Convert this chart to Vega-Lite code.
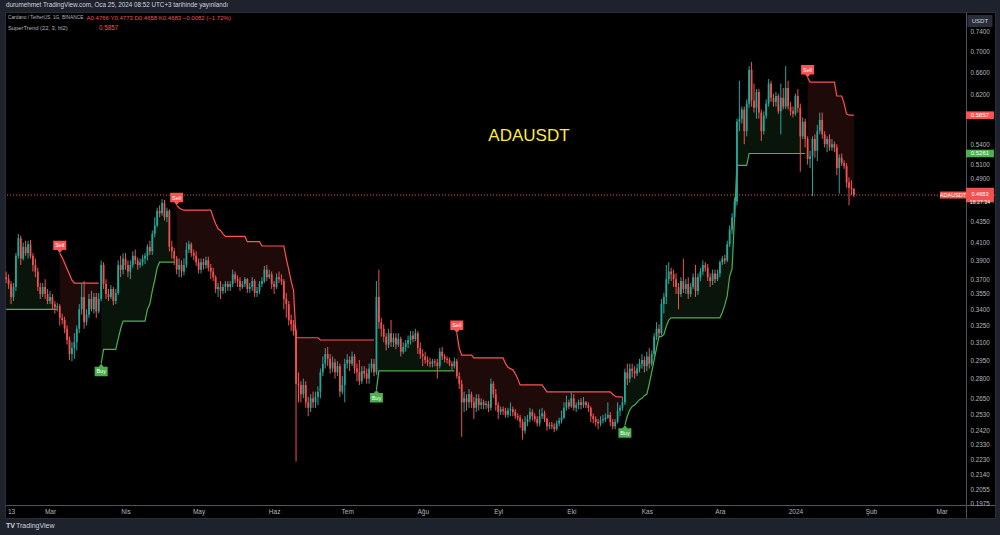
{
"$schema": "https://vega.github.io/schema/vega-lite/v6.json",
"width": 990, "height": 506,
"autosize": "none",
"padding": {"left": 5, "top": 12, "right": 5, "bottom": 17},
"background": "#1e222d",
"config": {"view": {"fill": "#000000", "stroke": "#2a2e39", "strokeWidth": 1}, "font": "Liberation Sans"},
"datasets": {
"bars": [
{"d":"2023-02-11","o":0.372,"h":0.378,"l":0.366,"c":0.370,"s":0.34,"g":1},
{"d":"2023-02-12","o":0.370,"h":0.375,"l":0.360,"c":0.365,"s":0.34,"g":1},
{"d":"2023-02-13","o":0.365,"h":0.368,"l":0.345,"c":0.352,"s":0.34,"g":1},
{"d":"2023-02-14","o":0.352,"h":0.366,"l":0.348,"c":0.362,"s":0.34,"g":1},
{"d":"2023-02-15","o":0.362,"h":0.398,"l":0.358,"c":0.395,"s":0.34,"g":1},
{"d":"2023-02-16","o":0.395,"h":0.420,"l":0.392,"c":0.415,"s":0.34,"g":1},
{"d":"2023-02-17","o":0.415,"h":0.418,"l":0.385,"c":0.392,"s":0.34,"g":1},
{"d":"2023-02-18","o":0.392,"h":0.410,"l":0.390,"c":0.405,"s":0.34,"g":1},
{"d":"2023-02-19","o":0.405,"h":0.412,"l":0.395,"c":0.398,"s":0.34,"g":1},
{"d":"2023-02-20","o":0.398,"h":0.412,"l":0.392,"c":0.408,"s":0.34,"g":1},
{"d":"2023-02-21","o":0.408,"h":0.413,"l":0.392,"c":0.395,"s":0.34,"g":1},
{"d":"2023-02-22","o":0.395,"h":0.398,"l":0.378,"c":0.385,"s":0.34,"g":1},
{"d":"2023-02-23","o":0.385,"h":0.392,"l":0.372,"c":0.378,"s":0.34,"g":1},
{"d":"2023-02-24","o":0.378,"h":0.382,"l":0.358,"c":0.362,"s":0.34,"g":1},
{"d":"2023-02-25","o":0.362,"h":0.366,"l":0.350,"c":0.355,"s":0.34,"g":1},
{"d":"2023-02-26","o":0.355,"h":0.366,"l":0.352,"c":0.362,"s":0.34,"g":1},
{"d":"2023-02-27","o":0.362,"h":0.370,"l":0.350,"c":0.355,"s":0.34,"g":1},
{"d":"2023-02-28","o":0.355,"h":0.360,"l":0.345,"c":0.348,"s":0.34,"g":1},
{"d":"2023-03-01","o":0.348,"h":0.358,"l":0.345,"c":0.352,"s":0.34,"g":1},
{"d":"2023-03-02","o":0.352,"h":0.355,"l":0.340,"c":0.345,"s":0.34,"g":1},
{"d":"2023-03-03","o":0.345,"h":0.348,"l":0.336,"c":0.342,"s":0.34,"g":1},
{"d":"2023-03-04","o":0.342,"h":0.346,"l":0.338,"c":0.343,"s":0.34,"g":1},
{"d":"2023-03-05","o":0.343,"h":0.345,"l":0.325,"c":0.332,"s":0.398,"g":2},
{"d":"2023-03-06","o":0.332,"h":0.336,"l":0.326,"c":0.330,"s":0.393,"g":2},
{"d":"2023-03-07","o":0.330,"h":0.333,"l":0.318,"c":0.322,"s":0.387,"g":2},
{"d":"2023-03-08","o":0.322,"h":0.325,"l":0.308,"c":0.312,"s":0.381,"g":2},
{"d":"2023-03-09","o":0.312,"h":0.315,"l":0.295,"c":0.300,"s":0.375,"g":2},
{"d":"2023-03-10","o":0.300,"h":0.310,"l":0.294,"c":0.305,"s":0.369,"g":2},
{"d":"2023-03-11","o":0.305,"h":0.318,"l":0.296,"c":0.310,"s":0.366,"g":2},
{"d":"2023-03-12","o":0.310,"h":0.325,"l":0.303,"c":0.322,"s":0.366,"g":2},
{"d":"2023-03-13","o":0.322,"h":0.345,"l":0.318,"c":0.340,"s":0.366,"g":2},
{"d":"2023-03-14","o":0.340,"h":0.366,"l":0.335,"c":0.352,"s":0.366,"g":2},
{"d":"2023-03-15","o":0.352,"h":0.368,"l":0.322,"c":0.328,"s":0.366,"g":2},
{"d":"2023-03-16","o":0.328,"h":0.340,"l":0.325,"c":0.335,"s":0.366,"g":2},
{"d":"2023-03-17","o":0.335,"h":0.355,"l":0.332,"c":0.350,"s":0.366,"g":2},
{"d":"2023-03-18","o":0.350,"h":0.358,"l":0.338,"c":0.340,"s":0.366,"g":2},
{"d":"2023-03-19","o":0.340,"h":0.356,"l":0.336,"c":0.352,"s":0.366,"g":2},
{"d":"2023-03-20","o":0.352,"h":0.356,"l":0.332,"c":0.338,"s":0.366,"g":2},
{"d":"2023-03-21","o":0.338,"h":0.356,"l":0.336,"c":0.350,"s":0.366,"g":2},
{"d":"2023-03-22","o":0.350,"h":0.390,"l":0.348,"c":0.385,"s":0.292,"g":3},
{"d":"2023-03-23","o":0.385,"h":0.388,"l":0.360,"c":0.365,"s":0.304,"g":3},
{"d":"2023-03-24","o":0.365,"h":0.370,"l":0.350,"c":0.355,"s":0.304,"g":3},
{"d":"2023-03-25","o":0.355,"h":0.360,"l":0.348,"c":0.352,"s":0.304,"g":3},
{"d":"2023-03-26","o":0.352,"h":0.364,"l":0.350,"c":0.360,"s":0.304,"g":3},
{"d":"2023-03-27","o":0.360,"h":0.362,"l":0.344,"c":0.348,"s":0.304,"g":3},
{"d":"2023-03-28","o":0.348,"h":0.360,"l":0.345,"c":0.356,"s":0.304,"g":3},
{"d":"2023-03-29","o":0.356,"h":0.390,"l":0.354,"c":0.385,"s":0.313,"g":3},
{"d":"2023-03-30","o":0.385,"h":0.395,"l":0.372,"c":0.380,"s":0.322,"g":3},
{"d":"2023-03-31","o":0.380,"h":0.398,"l":0.375,"c":0.392,"s":0.329,"g":3},
{"d":"2023-04-01","o":0.392,"h":0.398,"l":0.380,"c":0.385,"s":0.329,"g":3},
{"d":"2023-04-02","o":0.385,"h":0.390,"l":0.372,"c":0.378,"s":0.329,"g":3},
{"d":"2023-04-03","o":0.378,"h":0.390,"l":0.370,"c":0.385,"s":0.329,"g":3},
{"d":"2023-04-04","o":0.385,"h":0.400,"l":0.382,"c":0.395,"s":0.329,"g":3},
{"d":"2023-04-05","o":0.395,"h":0.402,"l":0.386,"c":0.390,"s":0.329,"g":3},
{"d":"2023-04-06","o":0.390,"h":0.393,"l":0.380,"c":0.385,"s":0.329,"g":3},
{"d":"2023-04-07","o":0.385,"h":0.392,"l":0.382,"c":0.388,"s":0.329,"g":3},
{"d":"2023-04-08","o":0.388,"h":0.396,"l":0.384,"c":0.392,"s":0.329,"g":3},
{"d":"2023-04-09","o":0.392,"h":0.398,"l":0.386,"c":0.395,"s":0.329,"g":3},
{"d":"2023-04-10","o":0.395,"h":0.408,"l":0.390,"c":0.405,"s":0.340,"g":3},
{"d":"2023-04-11","o":0.405,"h":0.412,"l":0.396,"c":0.400,"s":0.345,"g":3},
{"d":"2023-04-12","o":0.400,"h":0.424,"l":0.396,"c":0.420,"s":0.358,"g":3},
{"d":"2023-04-13","o":0.420,"h":0.440,"l":0.416,"c":0.430,"s":0.369,"g":3},
{"d":"2023-04-14","o":0.430,"h":0.452,"l":0.428,"c":0.448,"s":0.382,"g":3},
{"d":"2023-04-15","o":0.448,"h":0.455,"l":0.440,"c":0.445,"s":0.388,"g":3},
{"d":"2023-04-16","o":0.445,"h":0.463,"l":0.442,"c":0.458,"s":0.388,"g":3},
{"d":"2023-04-17","o":0.458,"h":0.462,"l":0.436,"c":0.440,"s":0.388,"g":3},
{"d":"2023-04-18","o":0.440,"h":0.452,"l":0.434,"c":0.448,"s":0.388,"g":3},
{"d":"2023-04-19","o":0.448,"h":0.450,"l":0.400,"c":0.405,"s":0.388,"g":3},
{"d":"2023-04-20","o":0.405,"h":0.412,"l":0.392,"c":0.400,"s":0.388,"g":3},
{"d":"2023-04-21","o":0.400,"h":0.404,"l":0.385,"c":0.392,"s":0.388,"g":3},
{"d":"2023-04-22","o":0.392,"h":0.395,"l":0.375,"c":0.380,"s":0.455,"g":4},
{"d":"2023-04-23","o":0.380,"h":0.392,"l":0.372,"c":0.385,"s":0.452,"g":4},
{"d":"2023-04-24","o":0.385,"h":0.390,"l":0.372,"c":0.378,"s":0.450,"g":4},
{"d":"2023-04-25","o":0.378,"h":0.392,"l":0.374,"c":0.385,"s":0.449,"g":4},
{"d":"2023-04-26","o":0.385,"h":0.410,"l":0.382,"c":0.402,"s":0.449,"g":4},
{"d":"2023-04-27","o":0.402,"h":0.412,"l":0.398,"c":0.408,"s":0.449,"g":4},
{"d":"2023-04-28","o":0.408,"h":0.410,"l":0.394,"c":0.398,"s":0.449,"g":4},
{"d":"2023-04-29","o":0.398,"h":0.402,"l":0.390,"c":0.395,"s":0.449,"g":4},
{"d":"2023-04-30","o":0.395,"h":0.400,"l":0.384,"c":0.388,"s":0.449,"g":4},
{"d":"2023-05-01","o":0.388,"h":0.392,"l":0.376,"c":0.380,"s":0.449,"g":4},
{"d":"2023-05-02","o":0.380,"h":0.392,"l":0.376,"c":0.388,"s":0.449,"g":4},
{"d":"2023-05-03","o":0.388,"h":0.392,"l":0.380,"c":0.385,"s":0.449,"g":4},
{"d":"2023-05-04","o":0.385,"h":0.394,"l":0.381,"c":0.390,"s":0.449,"g":4},
{"d":"2023-05-05","o":0.390,"h":0.394,"l":0.378,"c":0.382,"s":0.449,"g":4},
{"d":"2023-05-06","o":0.382,"h":0.386,"l":0.370,"c":0.378,"s":0.449,"g":4},
{"d":"2023-05-07","o":0.378,"h":0.382,"l":0.368,"c":0.372,"s":0.440,"g":4},
{"d":"2023-05-08","o":0.372,"h":0.374,"l":0.356,"c":0.360,"s":0.432,"g":4},
{"d":"2023-05-09","o":0.360,"h":0.366,"l":0.352,"c":0.362,"s":0.426,"g":4},
{"d":"2023-05-10","o":0.362,"h":0.368,"l":0.350,"c":0.358,"s":0.424,"g":4},
{"d":"2023-05-11","o":0.358,"h":0.365,"l":0.355,"c":0.362,"s":0.420,"g":4},
{"d":"2023-05-12","o":0.362,"h":0.368,"l":0.356,"c":0.365,"s":0.417,"g":4},
{"d":"2023-05-13","o":0.365,"h":0.368,"l":0.358,"c":0.362,"s":0.417,"g":4},
{"d":"2023-05-14","o":0.362,"h":0.368,"l":0.358,"c":0.365,"s":0.417,"g":4},
{"d":"2023-05-15","o":0.365,"h":0.380,"l":0.362,"c":0.375,"s":0.417,"g":4},
{"d":"2023-05-16","o":0.375,"h":0.378,"l":0.366,"c":0.370,"s":0.417,"g":4},
{"d":"2023-05-17","o":0.370,"h":0.374,"l":0.362,"c":0.368,"s":0.417,"g":4},
{"d":"2023-05-18","o":0.368,"h":0.372,"l":0.358,"c":0.362,"s":0.417,"g":4},
{"d":"2023-05-19","o":0.362,"h":0.368,"l":0.360,"c":0.365,"s":0.417,"g":4},
{"d":"2023-05-20","o":0.365,"h":0.372,"l":0.362,"c":0.370,"s":0.417,"g":4},
{"d":"2023-05-21","o":0.370,"h":0.371,"l":0.356,"c":0.360,"s":0.411,"g":4},
{"d":"2023-05-22","o":0.360,"h":0.366,"l":0.356,"c":0.362,"s":0.411,"g":4},
{"d":"2023-05-23","o":0.362,"h":0.372,"l":0.358,"c":0.368,"s":0.411,"g":4},
{"d":"2023-05-24","o":0.368,"h":0.370,"l":0.352,"c":0.356,"s":0.411,"g":4},
{"d":"2023-05-25","o":0.356,"h":0.362,"l":0.352,"c":0.358,"s":0.411,"g":4},
{"d":"2023-05-26","o":0.358,"h":0.368,"l":0.355,"c":0.365,"s":0.411,"g":4},
{"d":"2023-05-27","o":0.365,"h":0.372,"l":0.362,"c":0.368,"s":0.406,"g":4},
{"d":"2023-05-28","o":0.368,"h":0.384,"l":0.366,"c":0.380,"s":0.406,"g":4},
{"d":"2023-05-29","o":0.380,"h":0.385,"l":0.368,"c":0.372,"s":0.406,"g":4},
{"d":"2023-05-30","o":0.372,"h":0.380,"l":0.370,"c":0.375,"s":0.406,"g":4},
{"d":"2023-05-31","o":0.375,"h":0.378,"l":0.360,"c":0.365,"s":0.406,"g":4},
{"d":"2023-06-01","o":0.365,"h":0.368,"l":0.355,"c":0.362,"s":0.406,"g":4},
{"d":"2023-06-02","o":0.362,"h":0.376,"l":0.360,"c":0.372,"s":0.406,"g":4},
{"d":"2023-06-03","o":0.372,"h":0.378,"l":0.366,"c":0.370,"s":0.406,"g":4},
{"d":"2023-06-04","o":0.370,"h":0.375,"l":0.364,"c":0.368,"s":0.406,"g":4},
{"d":"2023-06-05","o":0.368,"h":0.370,"l":0.340,"c":0.350,"s":0.406,"g":4},
{"d":"2023-06-06","o":0.350,"h":0.356,"l":0.332,"c":0.345,"s":0.392,"g":4},
{"d":"2023-06-07","o":0.345,"h":0.348,"l":0.325,"c":0.330,"s":0.380,"g":4},
{"d":"2023-06-08","o":0.330,"h":0.335,"l":0.320,"c":0.326,"s":0.368,"g":4},
{"d":"2023-06-09","o":0.326,"h":0.330,"l":0.316,"c":0.320,"s":0.358,"g":4},
{"d":"2023-06-10","o":0.320,"h":0.322,"l":0.222,"c":0.276,"s":0.314,"g":4},
{"d":"2023-06-11","o":0.276,"h":0.285,"l":0.262,"c":0.275,"s":0.314,"g":4},
{"d":"2023-06-12","o":0.275,"h":0.278,"l":0.262,"c":0.268,"s":0.314,"g":4},
{"d":"2023-06-13","o":0.268,"h":0.280,"l":0.265,"c":0.275,"s":0.314,"g":4},
{"d":"2023-06-14","o":0.275,"h":0.278,"l":0.258,"c":0.262,"s":0.314,"g":4},
{"d":"2023-06-15","o":0.262,"h":0.266,"l":0.252,"c":0.258,"s":0.314,"g":4},
{"d":"2023-06-16","o":0.258,"h":0.268,"l":0.255,"c":0.265,"s":0.314,"g":4},
{"d":"2023-06-17","o":0.265,"h":0.270,"l":0.258,"c":0.262,"s":0.314,"g":4},
{"d":"2023-06-18","o":0.262,"h":0.270,"l":0.258,"c":0.266,"s":0.314,"g":4},
{"d":"2023-06-19","o":0.266,"h":0.274,"l":0.260,"c":0.270,"s":0.314,"g":4},
{"d":"2023-06-20","o":0.270,"h":0.288,"l":0.265,"c":0.285,"s":0.312,"g":4},
{"d":"2023-06-21","o":0.285,"h":0.298,"l":0.282,"c":0.292,"s":0.312,"g":4},
{"d":"2023-06-22","o":0.292,"h":0.305,"l":0.288,"c":0.300,"s":0.312,"g":4},
{"d":"2023-06-23","o":0.300,"h":0.306,"l":0.290,"c":0.296,"s":0.312,"g":4},
{"d":"2023-06-24","o":0.296,"h":0.300,"l":0.284,"c":0.288,"s":0.312,"g":4},
{"d":"2023-06-25","o":0.288,"h":0.298,"l":0.285,"c":0.293,"s":0.312,"g":4},
{"d":"2023-06-26","o":0.293,"h":0.296,"l":0.280,"c":0.285,"s":0.312,"g":4},
{"d":"2023-06-27","o":0.285,"h":0.294,"l":0.282,"c":0.290,"s":0.312,"g":4},
{"d":"2023-06-28","o":0.290,"h":0.292,"l":0.266,"c":0.270,"s":0.312,"g":4},
{"d":"2023-06-29","o":0.270,"h":0.282,"l":0.268,"c":0.275,"s":0.312,"g":4},
{"d":"2023-06-30","o":0.275,"h":0.296,"l":0.262,"c":0.292,"s":0.312,"g":4},
{"d":"2023-07-01","o":0.292,"h":0.300,"l":0.288,"c":0.295,"s":0.312,"g":4},
{"d":"2023-07-02","o":0.295,"h":0.298,"l":0.286,"c":0.292,"s":0.312,"g":4},
{"d":"2023-07-03","o":0.292,"h":0.302,"l":0.290,"c":0.298,"s":0.312,"g":4},
{"d":"2023-07-04","o":0.298,"h":0.300,"l":0.284,"c":0.288,"s":0.312,"g":4},
{"d":"2023-07-05","o":0.288,"h":0.292,"l":0.278,"c":0.285,"s":0.312,"g":4},
{"d":"2023-07-06","o":0.285,"h":0.295,"l":0.275,"c":0.278,"s":0.312,"g":4},
{"d":"2023-07-07","o":0.278,"h":0.290,"l":0.276,"c":0.286,"s":0.312,"g":4},
{"d":"2023-07-08","o":0.286,"h":0.290,"l":0.280,"c":0.284,"s":0.312,"g":4},
{"d":"2023-07-09","o":0.284,"h":0.288,"l":0.276,"c":0.280,"s":0.312,"g":4},
{"d":"2023-07-10","o":0.280,"h":0.292,"l":0.276,"c":0.288,"s":0.312,"g":4},
{"d":"2023-07-11","o":0.288,"h":0.296,"l":0.285,"c":0.292,"s":0.312,"g":4},
{"d":"2023-07-12","o":0.292,"h":0.296,"l":0.282,"c":0.285,"s":0.312,"g":4},
{"d":"2023-07-13","o":0.285,"h":0.368,"l":0.283,"c":0.352,"s":0.2713,"g":5},
{"d":"2023-07-14","o":0.352,"h":0.380,"l":0.322,"c":0.328,"s":0.2862,"g":5},
{"d":"2023-07-15","o":0.328,"h":0.332,"l":0.315,"c":0.322,"s":0.2862,"g":5},
{"d":"2023-07-16","o":0.322,"h":0.326,"l":0.310,"c":0.315,"s":0.2862,"g":5},
{"d":"2023-07-17","o":0.315,"h":0.318,"l":0.303,"c":0.308,"s":0.2862,"g":5},
{"d":"2023-07-18","o":0.308,"h":0.322,"l":0.305,"c":0.318,"s":0.2862,"g":5},
{"d":"2023-07-19","o":0.318,"h":0.330,"l":0.306,"c":0.310,"s":0.2862,"g":5},
{"d":"2023-07-20","o":0.310,"h":0.318,"l":0.306,"c":0.314,"s":0.2862,"g":5},
{"d":"2023-07-21","o":0.314,"h":0.318,"l":0.304,"c":0.308,"s":0.2862,"g":5},
{"d":"2023-07-22","o":0.308,"h":0.318,"l":0.306,"c":0.313,"s":0.2862,"g":5},
{"d":"2023-07-23","o":0.313,"h":0.315,"l":0.298,"c":0.302,"s":0.2862,"g":5},
{"d":"2023-07-24","o":0.302,"h":0.310,"l":0.300,"c":0.306,"s":0.2862,"g":5},
{"d":"2023-07-25","o":0.306,"h":0.312,"l":0.302,"c":0.309,"s":0.2862,"g":5},
{"d":"2023-07-26","o":0.309,"h":0.316,"l":0.305,"c":0.312,"s":0.2862,"g":5},
{"d":"2023-07-27","o":0.312,"h":0.320,"l":0.308,"c":0.316,"s":0.2862,"g":5},
{"d":"2023-07-28","o":0.316,"h":0.320,"l":0.310,"c":0.313,"s":0.2862,"g":5},
{"d":"2023-07-29","o":0.313,"h":0.322,"l":0.311,"c":0.318,"s":0.2862,"g":5},
{"d":"2023-07-30","o":0.318,"h":0.320,"l":0.300,"c":0.305,"s":0.2862,"g":5},
{"d":"2023-07-31","o":0.305,"h":0.310,"l":0.296,"c":0.300,"s":0.2862,"g":5},
{"d":"2023-08-01","o":0.300,"h":0.304,"l":0.290,"c":0.298,"s":0.2862,"g":5},
{"d":"2023-08-02","o":0.298,"h":0.302,"l":0.292,"c":0.295,"s":0.2862,"g":5},
{"d":"2023-08-03","o":0.295,"h":0.298,"l":0.290,"c":0.293,"s":0.2862,"g":5},
{"d":"2023-08-04","o":0.293,"h":0.297,"l":0.289,"c":0.292,"s":0.2862,"g":5},
{"d":"2023-08-05","o":0.292,"h":0.296,"l":0.289,"c":0.294,"s":0.2862,"g":5},
{"d":"2023-08-06","o":0.294,"h":0.296,"l":0.290,"c":0.293,"s":0.2862,"g":5},
{"d":"2023-08-07","o":0.293,"h":0.296,"l":0.280,"c":0.290,"s":0.2862,"g":5},
{"d":"2023-08-08","o":0.290,"h":0.305,"l":0.288,"c":0.302,"s":0.2862,"g":5},
{"d":"2023-08-09","o":0.302,"h":0.306,"l":0.295,"c":0.298,"s":0.2862,"g":5},
{"d":"2023-08-10","o":0.298,"h":0.300,"l":0.293,"c":0.296,"s":0.2862,"g":5},
{"d":"2023-08-11","o":0.296,"h":0.298,"l":0.292,"c":0.295,"s":0.2862,"g":5},
{"d":"2023-08-12","o":0.295,"h":0.297,"l":0.290,"c":0.292,"s":0.2862,"g":5},
{"d":"2023-08-13","o":0.292,"h":0.294,"l":0.287,"c":0.290,"s":0.2862,"g":5},
{"d":"2023-08-14","o":0.290,"h":0.297,"l":0.288,"c":0.294,"s":0.2862,"g":5},
{"d":"2023-08-15","o":0.294,"h":0.296,"l":0.280,"c":0.282,"s":0.3182,"g":6},
{"d":"2023-08-16","o":0.282,"h":0.285,"l":0.272,"c":0.276,"s":0.305,"g":6},
{"d":"2023-08-17","o":0.276,"h":0.279,"l":0.238,"c":0.262,"s":0.299,"g":6},
{"d":"2023-08-18","o":0.262,"h":0.270,"l":0.255,"c":0.265,"s":0.299,"g":6},
{"d":"2023-08-19","o":0.265,"h":0.268,"l":0.256,"c":0.262,"s":0.299,"g":6},
{"d":"2023-08-20","o":0.262,"h":0.272,"l":0.258,"c":0.268,"s":0.299,"g":6},
{"d":"2023-08-21","o":0.268,"h":0.270,"l":0.258,"c":0.262,"s":0.299,"g":6},
{"d":"2023-08-22","o":0.262,"h":0.266,"l":0.250,"c":0.258,"s":0.2967,"g":6},
{"d":"2023-08-23","o":0.258,"h":0.268,"l":0.255,"c":0.265,"s":0.2967,"g":6},
{"d":"2023-08-24","o":0.265,"h":0.268,"l":0.256,"c":0.260,"s":0.2967,"g":6},
{"d":"2023-08-25","o":0.260,"h":0.265,"l":0.257,"c":0.262,"s":0.2967,"g":6},
{"d":"2023-08-26","o":0.262,"h":0.264,"l":0.257,"c":0.260,"s":0.2967,"g":6},
{"d":"2023-08-27","o":0.260,"h":0.263,"l":0.257,"c":0.261,"s":0.2967,"g":6},
{"d":"2023-08-28","o":0.261,"h":0.263,"l":0.255,"c":0.258,"s":0.2967,"g":6},
{"d":"2023-08-29","o":0.258,"h":0.280,"l":0.256,"c":0.276,"s":0.2967,"g":6},
{"d":"2023-08-30","o":0.276,"h":0.278,"l":0.265,"c":0.268,"s":0.2967,"g":6},
{"d":"2023-08-31","o":0.268,"h":0.272,"l":0.256,"c":0.260,"s":0.2967,"g":6},
{"d":"2023-09-01","o":0.260,"h":0.262,"l":0.250,"c":0.255,"s":0.2967,"g":6},
{"d":"2023-09-02","o":0.255,"h":0.259,"l":0.253,"c":0.257,"s":0.2967,"g":6},
{"d":"2023-09-03","o":0.257,"h":0.259,"l":0.253,"c":0.256,"s":0.2967,"g":6},
{"d":"2023-09-04","o":0.256,"h":0.258,"l":0.251,"c":0.253,"s":0.292,"g":6},
{"d":"2023-09-05","o":0.253,"h":0.258,"l":0.251,"c":0.256,"s":0.289,"g":6},
{"d":"2023-09-06","o":0.256,"h":0.262,"l":0.252,"c":0.257,"s":0.288,"g":6},
{"d":"2023-09-07","o":0.257,"h":0.259,"l":0.252,"c":0.255,"s":0.287,"g":6},
{"d":"2023-09-08","o":0.255,"h":0.257,"l":0.250,"c":0.252,"s":0.284,"g":6},
{"d":"2023-09-09","o":0.252,"h":0.254,"l":0.249,"c":0.251,"s":0.280,"g":6},
{"d":"2023-09-10","o":0.251,"h":0.253,"l":0.244,"c":0.248,"s":0.2751,"g":6},
{"d":"2023-09-11","o":0.248,"h":0.250,"l":0.236,"c":0.242,"s":0.2751,"g":6},
{"d":"2023-09-12","o":0.242,"h":0.252,"l":0.240,"c":0.248,"s":0.2751,"g":6},
{"d":"2023-09-13","o":0.248,"h":0.253,"l":0.245,"c":0.250,"s":0.2751,"g":6},
{"d":"2023-09-14","o":0.250,"h":0.258,"l":0.248,"c":0.255,"s":0.2751,"g":6},
{"d":"2023-09-15","o":0.255,"h":0.257,"l":0.249,"c":0.252,"s":0.2751,"g":6},
{"d":"2023-09-16","o":0.252,"h":0.254,"l":0.248,"c":0.250,"s":0.2751,"g":6},
{"d":"2023-09-17","o":0.250,"h":0.252,"l":0.245,"c":0.247,"s":0.2751,"g":6},
{"d":"2023-09-18","o":0.247,"h":0.257,"l":0.245,"c":0.252,"s":0.2751,"g":6},
{"d":"2023-09-19","o":0.252,"h":0.258,"l":0.250,"c":0.254,"s":0.2751,"g":6},
{"d":"2023-09-20","o":0.254,"h":0.256,"l":0.248,"c":0.250,"s":0.2725,"g":6},
{"d":"2023-09-21","o":0.250,"h":0.251,"l":0.242,"c":0.245,"s":0.2698,"g":6},
{"d":"2023-09-22","o":0.245,"h":0.248,"l":0.243,"c":0.246,"s":0.2698,"g":6},
{"d":"2023-09-23","o":0.246,"h":0.248,"l":0.243,"c":0.245,"s":0.2698,"g":6},
{"d":"2023-09-24","o":0.245,"h":0.247,"l":0.241,"c":0.243,"s":0.2698,"g":6},
{"d":"2023-09-25","o":0.243,"h":0.249,"l":0.242,"c":0.247,"s":0.2698,"g":6},
{"d":"2023-09-26","o":0.247,"h":0.251,"l":0.245,"c":0.249,"s":0.2698,"g":6},
{"d":"2023-09-27","o":0.249,"h":0.256,"l":0.247,"c":0.251,"s":0.2698,"g":6},
{"d":"2023-09-28","o":0.251,"h":0.262,"l":0.250,"c":0.258,"s":0.2698,"g":6},
{"d":"2023-09-29","o":0.258,"h":0.267,"l":0.256,"c":0.262,"s":0.2698,"g":6},
{"d":"2023-09-30","o":0.262,"h":0.264,"l":0.257,"c":0.259,"s":0.2698,"g":6},
{"d":"2023-10-01","o":0.259,"h":0.270,"l":0.258,"c":0.265,"s":0.2698,"g":6},
{"d":"2023-10-02","o":0.265,"h":0.268,"l":0.256,"c":0.258,"s":0.2698,"g":6},
{"d":"2023-10-03","o":0.258,"h":0.262,"l":0.255,"c":0.260,"s":0.2698,"g":6},
{"d":"2023-10-04","o":0.260,"h":0.264,"l":0.257,"c":0.262,"s":0.2698,"g":6},
{"d":"2023-10-05","o":0.262,"h":0.265,"l":0.257,"c":0.260,"s":0.2698,"g":6},
{"d":"2023-10-06","o":0.260,"h":0.266,"l":0.258,"c":0.262,"s":0.2698,"g":6},
{"d":"2023-10-07","o":0.262,"h":0.263,"l":0.258,"c":0.260,"s":0.2698,"g":6},
{"d":"2023-10-08","o":0.260,"h":0.262,"l":0.255,"c":0.258,"s":0.2698,"g":6},
{"d":"2023-10-09","o":0.258,"h":0.259,"l":0.248,"c":0.252,"s":0.2698,"g":6},
{"d":"2023-10-10","o":0.252,"h":0.254,"l":0.247,"c":0.250,"s":0.2698,"g":6},
{"d":"2023-10-11","o":0.250,"h":0.252,"l":0.245,"c":0.248,"s":0.2698,"g":6},
{"d":"2023-10-12","o":0.248,"h":0.250,"l":0.243,"c":0.247,"s":0.2698,"g":6},
{"d":"2023-10-13","o":0.247,"h":0.252,"l":0.245,"c":0.249,"s":0.2698,"g":6},
{"d":"2023-10-14","o":0.249,"h":0.253,"l":0.247,"c":0.250,"s":0.2698,"g":6},
{"d":"2023-10-15","o":0.250,"h":0.254,"l":0.248,"c":0.251,"s":0.2698,"g":6},
{"d":"2023-10-16","o":0.251,"h":0.262,"l":0.250,"c":0.253,"s":0.2698,"g":6},
{"d":"2023-10-17","o":0.253,"h":0.255,"l":0.245,"c":0.248,"s":0.2698,"g":6},
{"d":"2023-10-18","o":0.248,"h":0.250,"l":0.243,"c":0.245,"s":0.268,"g":6},
{"d":"2023-10-19","o":0.245,"h":0.250,"l":0.243,"c":0.248,"s":0.2665,"g":6},
{"d":"2023-10-20","o":0.248,"h":0.262,"l":0.247,"c":0.256,"s":0.266,"g":6},
{"d":"2023-10-21","o":0.256,"h":0.260,"l":0.252,"c":0.258,"s":0.266,"g":6},
{"d":"2023-10-22","o":0.258,"h":0.266,"l":0.256,"c":0.262,"s":0.266,"g":6},
{"d":"2023-10-23","o":0.262,"h":0.288,"l":0.260,"c":0.285,"s":0.2458,"g":7},
{"d":"2023-10-24","o":0.285,"h":0.292,"l":0.275,"c":0.280,"s":0.252,"g":7},
{"d":"2023-10-25","o":0.280,"h":0.292,"l":0.277,"c":0.288,"s":0.2565,"g":7},
{"d":"2023-10-26","o":0.288,"h":0.292,"l":0.281,"c":0.286,"s":0.259,"g":7},
{"d":"2023-10-27","o":0.286,"h":0.290,"l":0.280,"c":0.284,"s":0.260,"g":7},
{"d":"2023-10-28","o":0.284,"h":0.292,"l":0.282,"c":0.288,"s":0.262,"g":7},
{"d":"2023-10-29","o":0.288,"h":0.296,"l":0.285,"c":0.292,"s":0.264,"g":7},
{"d":"2023-10-30","o":0.292,"h":0.300,"l":0.288,"c":0.295,"s":0.265,"g":7},
{"d":"2023-10-31","o":0.295,"h":0.298,"l":0.285,"c":0.290,"s":0.267,"g":7},
{"d":"2023-11-01","o":0.290,"h":0.302,"l":0.286,"c":0.298,"s":0.268,"g":7},
{"d":"2023-11-02","o":0.298,"h":0.305,"l":0.288,"c":0.292,"s":0.276,"g":7},
{"d":"2023-11-03","o":0.292,"h":0.303,"l":0.290,"c":0.300,"s":0.285,"g":7},
{"d":"2023-11-04","o":0.300,"h":0.318,"l":0.298,"c":0.315,"s":0.295,"g":7},
{"d":"2023-11-05","o":0.315,"h":0.328,"l":0.312,"c":0.322,"s":0.305,"g":7},
{"d":"2023-11-06","o":0.322,"h":0.326,"l":0.314,"c":0.318,"s":0.315,"g":7},
{"d":"2023-11-07","o":0.318,"h":0.350,"l":0.316,"c":0.345,"s":0.315,"g":7},
{"d":"2023-11-08","o":0.345,"h":0.356,"l":0.336,"c":0.352,"s":0.317,"g":7},
{"d":"2023-11-09","o":0.352,"h":0.385,"l":0.345,"c":0.370,"s":0.324,"g":7},
{"d":"2023-11-10","o":0.370,"h":0.388,"l":0.365,"c":0.378,"s":0.330,"g":7},
{"d":"2023-11-11","o":0.378,"h":0.382,"l":0.368,"c":0.375,"s":0.332,"g":7},
{"d":"2023-11-12","o":0.375,"h":0.380,"l":0.362,"c":0.370,"s":0.332,"g":7},
{"d":"2023-11-13","o":0.370,"h":0.376,"l":0.355,"c":0.362,"s":0.332,"g":7},
{"d":"2023-11-14","o":0.362,"h":0.366,"l":0.340,"c":0.355,"s":0.332,"g":7},
{"d":"2023-11-15","o":0.355,"h":0.372,"l":0.352,"c":0.368,"s":0.332,"g":7},
{"d":"2023-11-16","o":0.368,"h":0.392,"l":0.356,"c":0.360,"s":0.332,"g":7},
{"d":"2023-11-17","o":0.360,"h":0.370,"l":0.355,"c":0.365,"s":0.332,"g":7},
{"d":"2023-11-18","o":0.365,"h":0.372,"l":0.350,"c":0.355,"s":0.332,"g":7},
{"d":"2023-11-19","o":0.355,"h":0.366,"l":0.352,"c":0.362,"s":0.332,"g":7},
{"d":"2023-11-20","o":0.362,"h":0.376,"l":0.360,"c":0.372,"s":0.332,"g":7},
{"d":"2023-11-21","o":0.372,"h":0.385,"l":0.352,"c":0.358,"s":0.332,"g":7},
{"d":"2023-11-22","o":0.358,"h":0.376,"l":0.354,"c":0.372,"s":0.332,"g":7},
{"d":"2023-11-23","o":0.372,"h":0.382,"l":0.368,"c":0.378,"s":0.332,"g":7},
{"d":"2023-11-24","o":0.378,"h":0.390,"l":0.374,"c":0.385,"s":0.332,"g":7},
{"d":"2023-11-25","o":0.385,"h":0.388,"l":0.378,"c":0.382,"s":0.332,"g":7},
{"d":"2023-11-26","o":0.382,"h":0.386,"l":0.368,"c":0.372,"s":0.332,"g":7},
{"d":"2023-11-27","o":0.372,"h":0.376,"l":0.362,"c":0.368,"s":0.332,"g":7},
{"d":"2023-11-28","o":0.368,"h":0.380,"l":0.364,"c":0.376,"s":0.332,"g":7},
{"d":"2023-11-29","o":0.376,"h":0.380,"l":0.366,"c":0.370,"s":0.332,"g":7},
{"d":"2023-11-30","o":0.370,"h":0.380,"l":0.368,"c":0.376,"s":0.332,"g":7},
{"d":"2023-12-01","o":0.376,"h":0.390,"l":0.372,"c":0.388,"s":0.332,"g":7},
{"d":"2023-12-02","o":0.388,"h":0.395,"l":0.385,"c":0.392,"s":0.337,"g":7},
{"d":"2023-12-03","o":0.392,"h":0.396,"l":0.386,"c":0.390,"s":0.344,"g":7},
{"d":"2023-12-04","o":0.390,"h":0.412,"l":0.388,"c":0.408,"s":0.353,"g":7},
{"d":"2023-12-05","o":0.408,"h":0.430,"l":0.405,"c":0.425,"s":0.373,"g":7},
{"d":"2023-12-06","o":0.425,"h":0.445,"l":0.420,"c":0.440,"s":0.381,"g":7},
{"d":"2023-12-07","o":0.440,"h":0.465,"l":0.436,"c":0.460,"s":0.440,"g":7},
{"d":"2023-12-08","o":0.460,"h":0.580,"l":0.455,"c":0.575,"s":0.509,"g":7},
{"d":"2023-12-09","o":0.575,"h":0.645,"l":0.560,"c":0.580,"s":0.509,"g":7},
{"d":"2023-12-10","o":0.580,"h":0.600,"l":0.572,"c":0.595,"s":0.509,"g":7},
{"d":"2023-12-11","o":0.595,"h":0.600,"l":0.540,"c":0.560,"s":0.509,"g":7},
{"d":"2023-12-12","o":0.560,"h":0.612,"l":0.552,"c":0.605,"s":0.509,"g":7},
{"d":"2023-12-13","o":0.605,"h":0.672,"l":0.598,"c":0.665,"s":0.5261,"g":7},
{"d":"2023-12-14","o":0.665,"h":0.680,"l":0.600,"c":0.610,"s":0.5261,"g":7},
{"d":"2023-12-15","o":0.610,"h":0.640,"l":0.590,"c":0.598,"s":0.5261,"g":7},
{"d":"2023-12-16","o":0.598,"h":0.630,"l":0.580,"c":0.625,"s":0.5261,"g":7},
{"d":"2023-12-17","o":0.625,"h":0.630,"l":0.580,"c":0.590,"s":0.5261,"g":7},
{"d":"2023-12-18","o":0.590,"h":0.595,"l":0.545,"c":0.560,"s":0.5261,"g":7},
{"d":"2023-12-19","o":0.560,"h":0.592,"l":0.555,"c":0.585,"s":0.5261,"g":7},
{"d":"2023-12-20","o":0.585,"h":0.612,"l":0.580,"c":0.605,"s":0.5261,"g":7},
{"d":"2023-12-21","o":0.605,"h":0.648,"l":0.600,"c":0.640,"s":0.5261,"g":7},
{"d":"2023-12-22","o":0.640,"h":0.645,"l":0.608,"c":0.615,"s":0.5261,"g":7},
{"d":"2023-12-23","o":0.615,"h":0.622,"l":0.600,"c":0.608,"s":0.5261,"g":7},
{"d":"2023-12-24","o":0.608,"h":0.625,"l":0.600,"c":0.618,"s":0.5261,"g":7},
{"d":"2023-12-25","o":0.618,"h":0.622,"l":0.588,"c":0.592,"s":0.5261,"g":7},
{"d":"2023-12-26","o":0.592,"h":0.640,"l":0.555,"c":0.615,"s":0.5261,"g":7},
{"d":"2023-12-27","o":0.615,"h":0.632,"l":0.595,"c":0.600,"s":0.5261,"g":7},
{"d":"2023-12-28","o":0.600,"h":0.672,"l":0.596,"c":0.632,"s":0.5261,"g":7},
{"d":"2023-12-29","o":0.632,"h":0.645,"l":0.595,"c":0.600,"s":0.5261,"g":7},
{"d":"2023-12-30","o":0.600,"h":0.608,"l":0.585,"c":0.592,"s":0.5261,"g":7},
{"d":"2023-12-31","o":0.592,"h":0.600,"l":0.582,"c":0.588,"s":0.5261,"g":7},
{"d":"2024-01-01","o":0.588,"h":0.622,"l":0.585,"c":0.618,"s":0.5261,"g":7},
{"d":"2024-01-02","o":0.618,"h":0.630,"l":0.590,"c":0.598,"s":0.5261,"g":7},
{"d":"2024-01-03","o":0.598,"h":0.605,"l":0.500,"c":0.552,"s":0.5261,"g":7},
{"d":"2024-01-04","o":0.552,"h":0.582,"l":0.548,"c":0.575,"s":0.5261,"g":7},
{"d":"2024-01-05","o":0.575,"h":0.580,"l":0.535,"c":0.548,"s":0.5261,"g":7},
{"d":"2024-01-06","o":0.548,"h":0.552,"l":0.510,"c":0.518,"s":0.651,"g":8},
{"d":"2024-01-07","o":0.518,"h":0.530,"l":0.505,"c":0.522,"s":0.6424,"g":8},
{"d":"2024-01-08","o":0.522,"h":0.552,"l":0.467,"c":0.548,"s":0.6424,"g":8},
{"d":"2024-01-09","o":0.548,"h":0.555,"l":0.520,"c":0.530,"s":0.6424,"g":8},
{"d":"2024-01-10","o":0.530,"h":0.570,"l":0.515,"c":0.560,"s":0.6424,"g":8},
{"d":"2024-01-11","o":0.560,"h":0.590,"l":0.555,"c":0.578,"s":0.6424,"g":8},
{"d":"2024-01-12","o":0.578,"h":0.590,"l":0.548,"c":0.555,"s":0.6424,"g":8},
{"d":"2024-01-13","o":0.555,"h":0.560,"l":0.535,"c":0.540,"s":0.6424,"g":8},
{"d":"2024-01-14","o":0.540,"h":0.552,"l":0.528,"c":0.548,"s":0.6424,"g":8},
{"d":"2024-01-15","o":0.548,"h":0.555,"l":0.530,"c":0.535,"s":0.6424,"g":8},
{"d":"2024-01-16","o":0.535,"h":0.548,"l":0.530,"c":0.540,"s":0.6424,"g":8},
{"d":"2024-01-17","o":0.540,"h":0.544,"l":0.528,"c":0.535,"s":0.6424,"g":8},
{"d":"2024-01-18","o":0.535,"h":0.540,"l":0.495,"c":0.505,"s":0.618,"g":8},
{"d":"2024-01-19","o":0.505,"h":0.525,"l":0.470,"c":0.520,"s":0.618,"g":8},
{"d":"2024-01-20","o":0.520,"h":0.526,"l":0.508,"c":0.512,"s":0.618,"g":8},
{"d":"2024-01-21","o":0.512,"h":0.516,"l":0.504,"c":0.508,"s":0.605,"g":8},
{"d":"2024-01-22","o":0.508,"h":0.512,"l":0.478,"c":0.485,"s":0.588,"g":8},
{"d":"2024-01-23","o":0.485,"h":0.492,"l":0.455,"c":0.478,"s":0.5857,"g":8},
{"d":"2024-01-24","o":0.478,"h":0.488,"l":0.468,"c":0.4766,"s":0.5857,"g":8},
{"d":"2024-01-25","o":0.4766,"h":0.4773,"l":0.4658,"c":0.4683,"s":0.5857,"g":8}
],
"sig": [
{"d":"2023-03-05","p":0.398,"k":"Sell"},
{"d":"2023-03-22","p":0.292,"k":"Buy"},
{"d":"2023-04-22","p":0.455,"k":"Sell"},
{"d":"2023-07-13","p":0.2713,"k":"Buy"},
{"d":"2023-08-15","p":0.3182,"k":"Sell"},
{"d":"2023-10-23","p":0.2458,"k":"Buy"},
{"d":"2024-01-06","p":0.651,"k":"Sell"}
]
},
"layer": [
{
"data": {"name": "bars"},
"mark": {"type": "area", "opacity": 0.12},
"encoding": {
"x": {"field": "d", "type": "temporal", "title": null,
"scale": {"type": "utc", "nice": false, "padding": 0, "domain": [{"year": 2023, "month": 2, "date": 10, "hours": 12, "minutes": 39, "utc": true}, {"year": 2024, "month": 3, "date": 22, "hours": 22, "minutes": 19, "utc": true}]},
"axis": {"orient": "bottom", "offset": -13, "ticks": false, "grid": false, "domainColor": "#50535e", "labelColor": "#b2b5be", "labelFontSize": 6.5, "labelPadding": 3, "labelOverlap": false, "labelFlush": false, "zindex": 0,
"values": [{"year": 2023, "month": 2, "date": 13, "utc": true}, {"year": 2023, "month": 3, "date": 1, "utc": true}, {"year": 2023, "month": 4, "date": 1, "utc": true}, {"year": 2023, "month": 5, "date": 1, "utc": true}, {"year": 2023, "month": 6, "date": 1, "utc": true}, {"year": 2023, "month": 7, "date": 1, "utc": true}, {"year": 2023, "month": 8, "date": 1, "utc": true}, {"year": 2023, "month": 9, "date": 1, "utc": true}, {"year": 2023, "month": 10, "date": 1, "utc": true}, {"year": 2023, "month": 11, "date": 1, "utc": true}, {"year": 2023, "month": 12, "date": 1, "utc": true}, {"year": 2024, "month": 1, "date": 1, "utc": true}, {"year": 2024, "month": 2, "date": 1, "utc": true}, {"year": 2024, "month": 3, "date": 1, "utc": true}],
"labelExpr": "utcdate(datum.value) == 13 ? '13' : (utcmonth(datum.value) == 0 ? utcFormat(datum.value, '%Y') : ['Oca','Şub','Mar','Nis','May','Haz','Tem','Ağu','Eyl','Eki','Kas','Ara'][utcmonth(datum.value)])"}},
"y": {"field": "s", "type": "quantitative", "title": null,
"scale": {"type": "log", "domain": [0.18951, 0.78199], "nice": false, "zero": false, "padding": 0},
"axis": {"orient": "right", "offset": -29, "ticks": false, "grid": false, "domainColor": "#50535e", "labelColor": "#b2b5be", "labelFontSize": 6.3, "labelPadding": 4, "labelOverlap": false, "zindex": 0,
"values": [0.74, 0.70, 0.66, 0.62, 0.54, 0.51, 0.49, 0.435, 0.41, 0.39, 0.37, 0.355, 0.34, 0.325, 0.31, 0.295, 0.28, 0.265, 0.253, 0.242, 0.233, 0.223, 0.214, 0.2055, 0.1975],
"labelExpr": "format(datum.value, '.4f')"}},
"y2": {"field": "c"},
"detail": {"field": "g"},
"color": {"condition": {"test": "datum.s < datum.c", "value": "#4caf50"}, "value": "#ff5252"}
}
},
{
"data": {"name": "bars"},
"mark": {"type": "line", "strokeWidth": 1.2},
"encoding": {
"x": {"field": "d", "type": "temporal", "title": null},
"y": {"field": "s", "type": "quantitative", "title": null},
"detail": {"field": "g"},
"color": {"condition": {"test": "datum.s < datum.c", "value": "#4caf50"}, "value": "#ff5252"}
}
},
{
"data": {"values": [{}]},
"mark": {"type": "rule", "strokeDash": [1, 2], "color": "#ef5350", "strokeWidth": 1},
"encoding": {"y": {"datum": 0.4683, "type": "quantitative"}}
},
{
"data": {"name": "bars"},
"mark": {"type": "rule", "strokeWidth": 1},
"encoding": {
"x": {"field": "d", "type": "temporal", "title": null},
"y": {"field": "l", "type": "quantitative", "title": null},
"y2": {"field": "h"},
"color": {"condition": {"test": "datum.c >= datum.o", "value": "#26a69a"}, "value": "#ef5350"}
}
},
{
"data": {"name": "bars"},
"mark": {"type": "bar", "width": 1.8},
"encoding": {
"x": {"field": "d", "type": "temporal", "title": null},
"y": {"field": "o", "type": "quantitative", "title": null},
"y2": {"field": "c"},
"color": {"condition": {"test": "datum.c >= datum.o", "value": "#26a69a"}, "value": "#ef5350"}
}
},
{
"data": {"name": "sig"},
"transform": [{"filter": "datum.k == 'Sell'"}],
"layer": [
{"mark": {"type": "point", "shape": "M-1,-1.92L1,-1.92L1,-0.46L0.38,-0.46L0,0L-0.38,-0.46L-1,-0.46Z", "filled": true, "size": 169, "color": "#ff5252", "opacity": 1, "strokeWidth": 0},
"encoding": {"x": {"field": "d", "type": "temporal", "title": null}, "y": {"field": "p", "type": "quantitative", "title": null}}},
{"mark": {"type": "text", "dy": -7.7, "fontSize": 5.5, "color": "#ffffff", "align": "center", "baseline": "middle"},
"encoding": {"x": {"field": "d", "type": "temporal", "title": null}, "y": {"field": "p", "type": "quantitative", "title": null}, "text": {"field": "k"}}}
]
},
{
"data": {"name": "sig"},
"transform": [{"filter": "datum.k == 'Buy'"}],
"layer": [
{"mark": {"type": "point", "shape": "M-1,1.92L1,1.92L1,0.46L0.38,0.46L0,0L-0.38,0.46L-1,0.46Z", "filled": true, "size": 169, "color": "#4caf50", "opacity": 1, "strokeWidth": 0},
"encoding": {"x": {"field": "d", "type": "temporal", "title": null}, "y": {"field": "p", "type": "quantitative", "title": null}}},
{"mark": {"type": "text", "dy": 7.7, "fontSize": 5.5, "color": "#ffffff", "align": "center", "baseline": "middle"},
"encoding": {"x": {"field": "d", "type": "temporal", "title": null}, "y": {"field": "p", "type": "quantitative", "title": null}, "text": {"field": "k"}}}
]
},
{
"data": {"values": [{}]},
"mark": {"type": "text", "text": "ADAUSDT", "fontSize": 17, "color": "#ffeb3b", "align": "center", "baseline": "middle"},
"encoding": {"x": {"datum": {"year": 2023, "month": 9, "date": 13, "hours": 15, "utc": true}, "type": "temporal"}, "y": {"datum": 0.5525, "type": "quantitative"}}
},
{
"data": {"values": [{}]},
"mark": {"type": "text", "text": "durumehmet  TradingView.com, Oca 25, 2024 08:52 UTC+3 tarihinde yayınlandı", "fontSize": 6.3, "color": "#d1d4dc", "align": "left", "baseline": "middle"},
"encoding": {"x": {"datum": {"year": 2023, "month": 2, "date": 10, "hours": 22, "utc": true}, "type": "temporal"}, "y": {"datum": 0.7975, "type": "quantitative"}}
},
{
"data": {"values": [{}]},
"mark": {"type": "text", "text": "Cardano / TetherUS, 1G, BINANCE", "fontSize": 4.8, "color": "#b2b5be", "align": "left", "baseline": "middle"},
"encoding": {"x": {"datum": {"year": 2023, "month": 2, "date": 11, "hours": 18, "utc": true}, "type": "temporal"}, "y": {"datum": 0.7679, "type": "quantitative"}}
},
{
"data": {"values": [{}]},
"mark": {"type": "text", "text": "A0.4766  Y0.4773  D0.4658  K0.4683  −0.0082 (−1.72%)", "fontSize": 6, "color": "#ef5350", "align": "left", "baseline": "middle"},
"encoding": {"x": {"datum": {"year": 2023, "month": 3, "date": 16, "hours": 0, "utc": true}, "type": "temporal"}, "y": {"datum": 0.7679, "type": "quantitative"}}
},
{
"data": {"values": [{}]},
"mark": {"type": "text", "text": "SuperTrend (22, 3, hl2)", "fontSize": 5.8, "color": "#b2b5be", "align": "left", "baseline": "middle"},
"encoding": {"x": {"datum": {"year": 2023, "month": 2, "date": 11, "hours": 18, "utc": true}, "type": "temporal"}, "y": {"datum": 0.7477, "type": "quantitative"}}
},
{
"data": {"values": [{}]},
"mark": {"type": "text", "text": "0.5857", "fontSize": 6.3, "color": "#ff5252", "align": "left", "baseline": "middle"},
"encoding": {"x": {"datum": {"year": 2023, "month": 3, "date": 21, "hours": 3, "utc": true}, "type": "temporal"}, "y": {"datum": 0.7477, "type": "quantitative"}}
},
{
"data": {"values": [{}]},
"mark": {"type": "text", "text": "TradingView", "fontSize": 7, "color": "#d1d4dc", "align": "left", "baseline": "middle"},
"encoding": {"x": {"datum": {"year": 2023, "month": 2, "date": 15, "hours": 1, "utc": true}, "type": "temporal"}, "y": {"datum": 0.1853, "type": "quantitative"}}
},
{
"data": {"values": [{}]},
"mark": {"type": "text", "text": "TV", "fontSize": 7, "fontWeight": "bold", "color": "#d1d4dc", "align": "left", "baseline": "middle"},
"encoding": {"x": {"datum": {"year": 2023, "month": 2, "date": 10, "hours": 22, "utc": true}, "type": "temporal"}, "y": {"datum": 0.1853, "type": "quantitative"}}
},
{
"data": {"values": [{}]},
"mark": {"type": "point", "shape": "M-1,-0.48L1,-0.48L1,0.48L-1,0.48Z", "filled": true, "size": 625, "color": "#2a2e39", "opacity": 1, "strokeWidth": 0},
"encoding": {"x": {"datum": {"year": 2024, "month": 3, "date": 16, "hours": 18, "utc": true}, "type": "temporal"}, "y": {"datum": 0.7625, "type": "quantitative"}}
},
{
"data": {"values": [{}]},
"mark": {"type": "text", "text": "USDT", "fontSize": 6, "color": "#d1d4dc", "align": "center", "baseline": "middle"},
"encoding": {"x": {"datum": {"year": 2024, "month": 3, "date": 16, "hours": 18, "utc": true}, "type": "temporal"}, "y": {"datum": 0.7625, "type": "quantitative"}}
},
{
"data": {"values": [{}]},
"mark": {"type": "point", "shape": "M-1,-0.27L1,-0.27L1,0.27L-1,0.27Z", "filled": true, "size": 784, "color": "#ff5252", "opacity": 1, "strokeWidth": 0},
"encoding": {"x": {"datum": {"year": 2024, "month": 3, "date": 16, "hours": 18, "utc": true}, "type": "temporal"}, "y": {"datum": 0.5857, "type": "quantitative"}}
},
{
"data": {"values": [{}]},
"mark": {"type": "text", "text": "0.5857", "fontSize": 6, "color": "#ffffff", "align": "center", "baseline": "middle"},
"encoding": {"x": {"datum": {"year": 2024, "month": 3, "date": 16, "hours": 18, "utc": true}, "type": "temporal"}, "y": {"datum": 0.5857, "type": "quantitative"}}
},
{
"data": {"values": [{}]},
"mark": {"type": "point", "shape": "M-1,-0.27L1,-0.27L1,0.27L-1,0.27Z", "filled": true, "size": 784, "color": "#4caf50", "opacity": 1, "strokeWidth": 0},
"encoding": {"x": {"datum": {"year": 2024, "month": 3, "date": 16, "hours": 18, "utc": true}, "type": "temporal"}, "y": {"datum": 0.5261, "type": "quantitative"}}
},
{
"data": {"values": [{}]},
"mark": {"type": "text", "text": "0.5261", "fontSize": 6, "color": "#ffffff", "align": "center", "baseline": "middle"},
"encoding": {"x": {"datum": {"year": 2024, "month": 3, "date": 16, "hours": 18, "utc": true}, "type": "temporal"}, "y": {"datum": 0.5261, "type": "quantitative"}}
},
{
"data": {"values": [{}]},
"mark": {"type": "point", "shape": "M-1,-0.52L1,-0.52L1,0.52L-1,0.52Z", "filled": true, "size": 784, "color": "#ef5350", "opacity": 1, "strokeWidth": 0, "dy": 3},
"encoding": {"x": {"datum": {"year": 2024, "month": 3, "date": 16, "hours": 18, "utc": true}, "type": "temporal"}, "y": {"datum": 0.4683, "type": "quantitative"}}
},
{
"data": {"values": [{}]},
"mark": {"type": "text", "text": "0.4683", "fontSize": 5.6, "color": "#ffffff", "align": "center", "baseline": "middle", "dy": -0.8},
"encoding": {"x": {"datum": {"year": 2024, "month": 3, "date": 16, "hours": 18, "utc": true}, "type": "temporal"}, "y": {"datum": 0.4683, "type": "quantitative"}}
},
{
"data": {"values": [{}]},
"mark": {"type": "text", "text": "18:27:34", "fontSize": 5.2, "color": "#ffffff", "align": "center", "baseline": "middle", "dy": 6.8},
"encoding": {"x": {"datum": {"year": 2024, "month": 3, "date": 16, "hours": 18, "utc": true}, "type": "temporal"}, "y": {"datum": 0.4683, "type": "quantitative"}}
},
{
"data": {"values": [{}]},
"mark": {"type": "point", "shape": "M-1,-0.27L1,-0.27L1,0.27L-1,0.27Z", "filled": true, "size": 676, "color": "#ef5350", "opacity": 1, "strokeWidth": 0},
"encoding": {"x": {"datum": {"year": 2024, "month": 3, "date": 5, "hours": 16, "minutes": 30, "utc": true}, "type": "temporal"}, "y": {"datum": 0.4683, "type": "quantitative"}}
},
{
"data": {"values": [{}]},
"mark": {"type": "text", "text": "ADAUSDT", "fontSize": 5.5, "color": "#ffffff", "align": "center", "baseline": "middle"},
"encoding": {"x": {"datum": {"year": 2024, "month": 3, "date": 5, "hours": 16, "minutes": 30, "utc": true}, "type": "temporal"}, "y": {"datum": 0.4683, "type": "quantitative"}}
}
]
}
